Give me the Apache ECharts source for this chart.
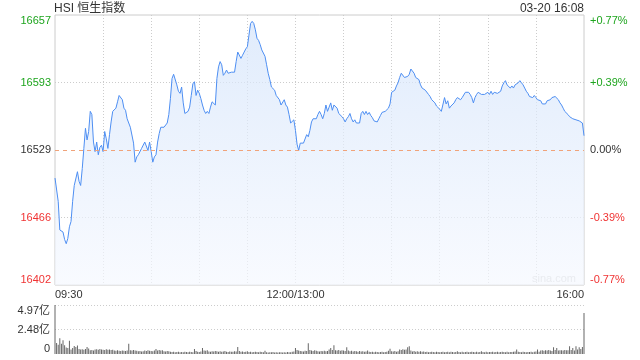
<!DOCTYPE html>
<html>
<head>
<meta charset="utf-8">
<script src="https://cdn.jsdelivr.net/npm/echarts@6/dist/echarts.min.js"></script>
<style>html,body{margin:0;padding:0;background:#fff}#c{width:640px;height:360px}</style>
</head>
<body>
<div id="c"></div>
<script>
// ---- data ----
const prevClose = 16529;
const priceTicks = ['16402', '16466', '16529', '16593', '16657'];
const pctTicks = ['-0.77%', '-0.39%', '0.00%', '+0.39%', '+0.77%'];
const volTicks = ['0', '2.48亿', '4.97亿'];
const xTickLabels = ['09:30', '12:00/13:00', '16:00'];
const xTickIndex = [0, 150, 330];
const priceMin = 16402, priceMax = 16657;
const volMax = 4.97;

// price per trading minute (09:30 .. 12:00/13:00 .. 16:00)
const prices = [
16503,16504,16481,16454,16453,16452,16445,16441,16446,16457,
16462,16481,16496,16495,16509,16500,16496,16512,16531,16550,
16539,16547,16566,16563,16537,16528,16537,16525,16532,16534,
16528,16547,16540,16531,16544,16556,16566,16567,16569,16575,
16581,16582,16577,16569,16567,16559,16559,16551,16550,16536,
16518,16523,16525,16525,16531,16531,16537,16536,16529,16537,
16528,16518,16523,16525,16537,16545,16551,16551,16551,16551,
16555,16563,16578,16597,16601,16600,16591,16585,16583,16589,
16574,16564,16564,16566,16570,16581,16592,16594,16581,16586,
16583,16578,16572,16567,16564,16566,16564,16570,16575,16574,
16572,16597,16608,16613,16610,16600,16602,16605,16602,16603,
16603,16603,16603,16613,16622,16621,16616,16619,16622,16625,
16627,16638,16649,16651,16649,16643,16635,16633,16629,16624,
16625,16618,16610,16602,16596,16589,16590,16586,16581,16581,
16577,16572,16573,16577,16572,16570,16563,16555,16556,16558,
16548,16535,16529,16536,16537,16536,16535,16544,16542,16548,
16556,16559,16558,16559,16563,16566,16563,16559,16564,16572,
16566,16570,16574,16567,16572,16571,16569,16564,16563,16561,
16559,16556,16559,16561,16564,16559,16556,16558,16555,16556,
16555,16564,16566,16563,16566,16563,16565,16562,16560,16557,
16556,16556,16559,16562,16565,16565,16566,16565,16569,16573,
16584,16585,16586,16590,16593,16598,16602,16601,16598,16599,
16599,16601,16606,16607,16602,16598,16599,16596,16591,16588,
16588,16586,16585,16582,16580,16577,16576,16574,16571,16571,
16568,16566,16566,16579,16573,16576,16569,16571,16571,16574,
16577,16579,16579,16577,16579,16580,16584,16584,16584,16582,
16579,16574,16579,16582,16584,16585,16582,16583,16582,16582,
16584,16582,16585,16582,16584,16583,16583,16584,16585,16590,
16593,16595,16591,16590,16588,16590,16588,16591,16591,16593,
16595,16593,16591,16588,16585,16583,16580,16579,16579,16581,
16579,16577,16577,16576,16573,16573,16573,16576,16576,16577,
16579,16580,16580,16579,16577,16574,16572,16569,16566,16565,
16563,16561,16560,16559,16558,16558,16557,16557,16557,16555,
16543
];

// volume per trading minute (亿)
const volumes = [
4.97,1.12,0.95,1.60,1.05,1.40,0.90,0.65,0.60,1.35,
0.45,0.60,0.80,0.70,0.85,0.50,0.45,0.48,0.42,0.50,
0.70,0.55,0.38,0.40,0.35,0.45,0.48,0.42,0.50,0.45,
0.44,0.40,0.47,0.42,0.45,0.40,0.43,0.35,0.32,0.38,
0.34,0.30,0.36,0.33,0.30,0.35,1.05,0.38,0.36,0.40,
0.35,0.32,0.27,0.30,0.25,0.28,0.35,0.30,0.38,0.33,
0.30,0.28,0.35,0.50,0.36,0.40,0.35,0.38,0.28,0.25,
0.30,0.27,0.22,0.20,0.22,0.18,0.20,0.22,0.19,0.21,
0.18,0.22,0.20,0.19,0.23,0.20,0.18,0.50,0.30,0.22,
0.20,0.25,0.60,0.35,0.32,0.38,0.25,0.22,0.28,0.25,
0.30,0.27,0.24,0.28,0.22,0.25,0.30,0.23,0.21,0.26,
0.24,0.22,0.27,0.25,0.70,0.30,0.22,0.25,0.20,0.23,
0.28,0.20,0.22,0.19,0.21,0.24,0.20,0.18,0.22,0.20,
0.19,0.34,0.18,0.16,0.19,0.17,0.20,0.15,0.18,0.16,
0.19,0.17,0.15,0.18,0.16,0.20,0.17,0.19,0.22,0.25,
0.60,0.40,0.35,0.30,0.28,0.25,0.32,0.30,1.10,0.40,
0.35,0.30,0.38,0.33,0.28,0.25,0.30,0.27,0.32,0.28,
0.30,0.45,0.60,0.40,0.88,0.38,0.35,0.40,0.33,0.37,
0.35,0.30,0.68,0.35,0.28,0.32,0.25,0.30,0.27,0.24,
0.30,0.26,0.28,0.22,0.25,0.35,0.22,0.20,0.23,0.19,
0.22,0.20,0.18,0.21,0.23,0.19,0.20,0.22,0.34,0.54,
0.28,0.25,0.30,0.24,0.27,0.45,0.40,0.48,0.42,0.45,
0.68,0.78,0.35,0.25,0.30,0.22,0.27,0.24,0.28,0.22,
0.25,0.20,0.22,0.19,0.21,0.24,0.20,0.18,0.22,0.20,
0.19,0.21,0.23,0.18,0.20,0.22,0.19,0.24,0.20,0.18,
0.21,0.28,0.20,0.19,0.22,0.18,0.20,0.23,0.19,0.21,
0.24,0.20,0.18,0.22,0.19,0.21,0.28,0.20,0.18,0.22,
0.19,0.21,0.20,0.23,0.18,0.20,0.22,0.19,0.21,0.24,
0.20,0.18,0.22,0.19,0.21,0.20,0.23,0.25,0.45,0.22,
0.20,0.19,0.22,0.20,0.18,0.21,0.20,0.23,0.19,0.22,
0.25,0.45,0.22,0.35,0.38,0.33,0.37,0.35,0.40,0.36,
0.30,0.68,0.40,0.60,0.35,0.37,0.38,0.35,0.40,0.37,
0.38,0.78,0.40,0.60,0.35,0.78,0.45,0.68,0.50,0.70,
4.16
];

// minute categories
const times = [];
function pad(n){return (n<10?'0':'')+n;}
for (let i = 0; i < prices.length; i++) {
  let t = i <= 150 ? 9*60+30+i : 13*60+(i-150);
  times.push(pad(Math.floor(t/60)) + ':' + pad(t%60));
}

const FONT = "'Liberation Sans','Noto Sans CJK SC',sans-serif";
const GREEN = '#1ea51e', RED = '#f03333', DARK = '#333';
function tickColor(idx){ return idx < 2 ? RED : (idx === 2 ? DARK : GREEN); }

const chart = echarts.init(document.getElementById('c'), null, {renderer: 'canvas'});
chart.setOption({
  animation: false,
  textStyle: {fontFamily: FONT},
  title: [
    {text: 'HSI 恒生指数', left: 54, top: 3, padding: 0,
     textStyle: {fontSize: 12, fontWeight: 'normal', color: DARK, fontFamily: FONT}},
    {text: '03-20 16:08', right: 56, top: 3, padding: 0,
     textStyle: {fontSize: 12, fontWeight: 'normal', color: DARK, fontFamily: FONT}}
  ],
  graphic: [{
    type: 'text', left: 532, top: 273, silent: true,
    style: {text: 'sina.com', fill: '#cfcfcf', font: '11px ' + FONT}
  }],
  grid: [
    {left: 55, right: 56, top: 15, height: 270, show: true, borderColor: '#cccccc', borderWidth: 1, backgroundColor: 'transparent'},
    {left: 55, right: 56, top: 305, height: 49}
  ],
  xAxis: [
    {type: 'category', gridIndex: 0, data: times, boundaryGap: false,
     axisLine: {show: false}, axisTick: {show: false},
     axisLabel: {
       interval: (i) => xTickIndex.indexOf(i) >= 0,
       formatter: (v, i) => xTickLabels[xTickIndex.indexOf(i)] || '',
       color: DARK, fontSize: 11, margin: 4, fontFamily: FONT,
       alignMinLabel: 'left', alignMaxLabel: 'right'
     },
     splitLine: {show: true, interval: (i) => i % 30 === 0 && i > 0 && i < 330,
       lineStyle: {color: '#cccccc', type: [1, 2], width: 1}}},
    {type: 'category', gridIndex: 1, data: times, boundaryGap: false,
     axisLine: {show: false}, axisTick: {show: false}, axisLabel: {show: false}, splitLine: {show: false}}
  ],
  yAxis: [
    {type: 'value', gridIndex: 0, min: priceMin, max: priceMax, show: false, splitLine: {show: false}},
    {type: 'category', gridIndex: 0, position: 'left', data: priceTicks, boundaryGap: false,
     axisLine: {show: false}, axisTick: {show: false},
     axisLabel: {fontSize: 11, margin: 4, fontFamily: FONT, color: (v, i) => tickColor(priceTicks.indexOf(v)),
       verticalAlignMinLabel: 'bottom', verticalAlignMaxLabel: 'top'},
     splitLine: {show: true, interval: (i) => i === 1 || i === 3, lineStyle: {color: '#cccccc', type: [1, 2]}}},
    {type: 'category', gridIndex: 0, position: 'right', data: pctTicks, boundaryGap: false,
     axisLine: {show: false}, axisTick: {show: false},
     axisLabel: {fontSize: 11, margin: 6, fontFamily: FONT, color: (v, i) => tickColor(pctTicks.indexOf(v)),
       verticalAlignMinLabel: 'bottom', verticalAlignMaxLabel: 'top'},
     splitLine: {show: false}},
    {type: 'value', gridIndex: 1, min: 0, max: volMax, show: false, splitLine: {show: false}},
    {type: 'category', gridIndex: 1, position: 'left', data: volTicks, boundaryGap: false,
     axisLine: {show: false}, axisTick: {show: false},
     axisLabel: {fontSize: 11, margin: 5, color: DARK, fontFamily: FONT,
       verticalAlignMinLabel: 'bottom', verticalAlignMaxLabel: 'top'},
     splitLine: {show: true, interval: (i) => i >= 1, lineStyle: {color: '#cccccc', type: [1, 2]}}}
  ],
  series: [
    {type: 'line', xAxisIndex: 0, yAxisIndex: 0, data: prices, showSymbol: false, symbol: 'none',
     lineStyle: {color: '#4d8ef2', width: 1},
     areaStyle: {color: new echarts.graphic.LinearGradient(0, 0, 0, 1, [
       {offset: 0, color: '#d3e3fa'},
       {offset: 1, color: '#f5f8fe'}
     ])},
     markLine: {silent: true, symbol: 'none', label: {show: false},
       lineStyle: {color: '#f0a37a', type: [4, 4], width: 1},
       data: [{yAxis: prevClose}]}},
    {type: 'bar', xAxisIndex: 1, yAxisIndex: 3, data: volumes, barWidth: 1, clip: false,
     itemStyle: {color: '#666666'}}
  ]
});
</script>
</body>
</html>
